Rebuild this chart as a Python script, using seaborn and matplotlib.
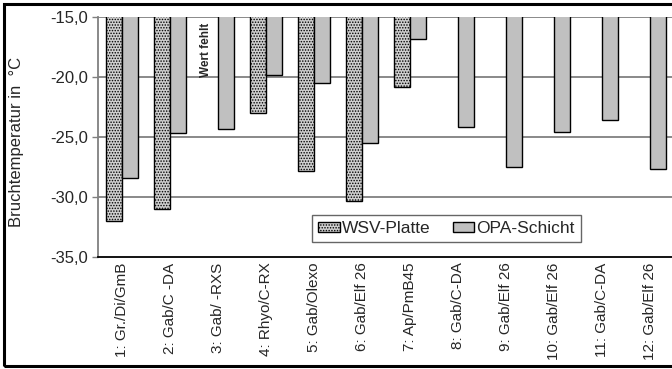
import numpy as np
import pandas as pd
import matplotlib
matplotlib.use("Agg")
import matplotlib.pyplot as plt
from matplotlib.patches import Rectangle
import seaborn as sns

categories = ["1: Gr./Di/GmB", "2: Gab/C -DA", "3: Gab/ -RXS", "4: Rhyo/C-RX",
              "5: Gab/Olexo", "6: Gab/Elf 26", "7: Ap/PmB45", "8: Gab/C-DA",
              "9: Gab/Elf 26", "10: Gab/Elf 26", "11: Gab/C-DA", "12: Gab/Elf 26"]
wsv_platte = [-32.0, -31.0, np.nan, -23.0, -27.8, -30.3, -20.8,
              np.nan, np.nan, np.nan, np.nan, np.nan]
opa_schicht = [-28.4, -24.7, -24.3, -19.8, -20.5, -25.5, -16.8,
               -24.2, -27.5, -24.6, -23.6, -27.7]
series = ["WSV-Platte", "OPA-Schicht"]
yticks = [-15.0, -20.0, -25.0, -30.0, -35.0]

df = pd.DataFrame({
    "Probe": categories * 2,
    "Serie": [series[0]] * len(categories) + [series[1]] * len(categories),
    "Wert": wsv_platte + opa_schicht,
})

sns.set_theme(style="white")
plt.rcParams["font.family"] = ["Liberation Sans", "DejaVu Sans"]
plt.rcParams["hatch.color"] = "#6a6a6a"
plt.rcParams["hatch.linewidth"] = 0.7

fig = plt.figure(figsize=(6.72, 3.69), dpi=100)
ax = fig.add_axes([98 / 672, 1 - 257 / 369, 576 / 672, 240 / 369])

sns.barplot(data=df, x="Probe", y="Wert", hue="Serie", order=categories,
            hue_order=series, palette=["#cfcfcf", "#c0c0c0"], width=0.667,
            edgecolor="black", linewidth=1.0, saturation=1, errorbar=None,
            ax=ax, zorder=3)

# stipple on the WSV-Platte bars
for bar in ax.containers[0]:
    bar.set_hatch("......")

ax.set_ylim(-35, -15)
ax.set_yticks(yticks)
ax.set_yticklabels([f"{t:.1f}".replace(".", ",") for t in yticks], fontsize=12)
ax.tick_params(axis="y", length=4, width=1, color="#808080", left=True, pad=3)
ax.tick_params(axis="x", rotation=90, labelsize=11, length=0, pad=4)
for lbl in ax.get_xticklabels():
    lbl.set_va("top")
ax.set_xlabel("")
ax.set_ylabel("Bruchtemperatur in  °C", fontsize=12)
ax.yaxis.set_label_coords(-0.128, 0.48)

for y in yticks[:-1]:
    ax.axhline(y, color="#808080", linewidth=1.3, zorder=1)

for side in ["top", "right"]:
    ax.spines[side].set_visible(False)
ax.spines["left"].set_color("#808080")
ax.spines["left"].set_linewidth(1.3)
ax.spines["bottom"].set_color("black")
ax.spines["bottom"].set_linewidth(1.3)

ax.text(1.74, -17.75, "Wert fehlt", rotation=90, ha="center", va="center",
        fontsize=8.5, fontweight="bold", zorder=4)

leg = ax.legend(loc="upper left", bbox_to_anchor=((312 - 98) / 576, (257 - 215) / 240),
                ncol=2, fontsize=12.5, frameon=True, fancybox=False,
                handlelength=1.25, handleheight=0.5, handletextpad=0.1,
                columnspacing=1.3, borderpad=0.35, borderaxespad=0)
leg.get_frame().set_edgecolor("#404040")
leg.get_frame().set_linewidth(1.0)
leg.legend_handles[0].set_hatch("......")

fig.patches.append(Rectangle((4 / 672, 3 / 369), 1.0, 1 - 7 / 369,
                             transform=fig.transFigure, fill=False,
                             edgecolor="black", linewidth=2.2, zorder=10))

fig.savefig("out.png", dpi=100)
